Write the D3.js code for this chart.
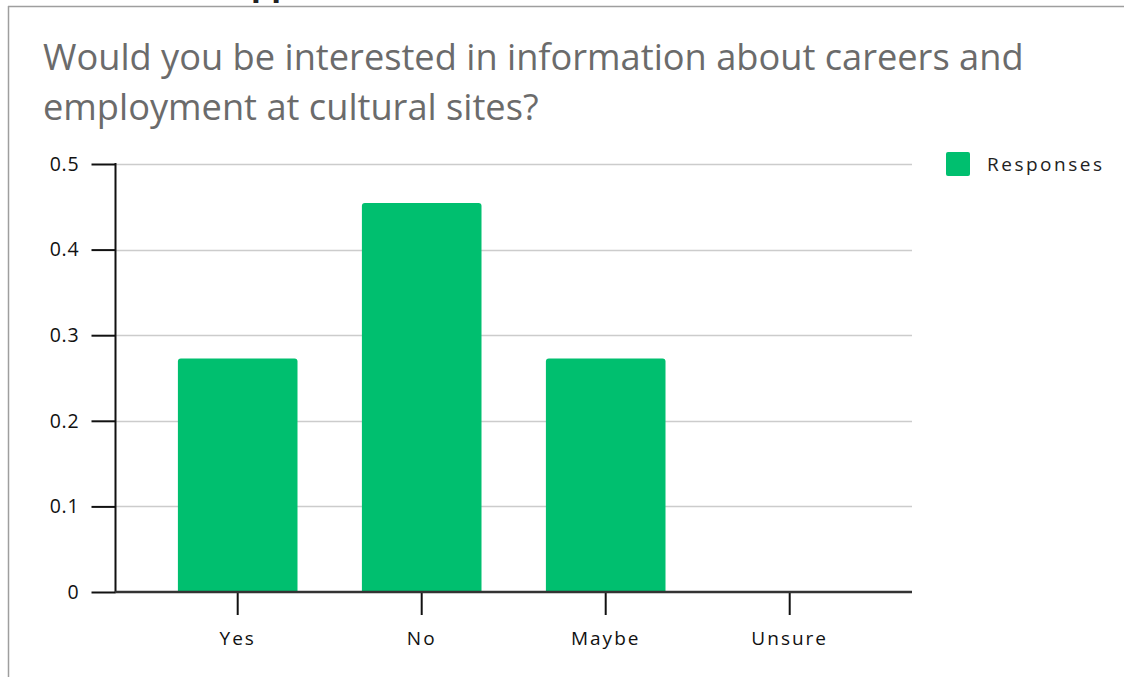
<!DOCTYPE html>
<html>
<head>
<meta charset="utf-8">
<script src="https://cdn.jsdelivr.net/npm/d3@7"></script>
<style>
  html, body { margin: 0; padding: 0; background: #fff; }
  svg { display: block; }
</style>
</head>
<body>
<svg id="chart" width="1125" height="678"></svg>
<script>
// Survey question and answer shares
const titleLines = [
  "Would you be interested in information about careers and",
  "employment at cultural sites?"
];
const categories = ["Yes", "No", "Maybe", "Unsure"];
const responses = [0.2727, 0.4545, 0.2727, 0];
const yTicks = [0, 0.1, 0.2, 0.3, 0.4, 0.5];
const yTickLabels = ["0", "0.1", "0.2", "0.3", "0.4", "0.5"];
const seriesName = "Responses";

const W = 1125, H = 678;
const svg = d3.select("#chart");
const green = "#00bf6f";
const labelFont = "'Open Sans', 'Noto Sans', sans-serif";

// page frame and the heading above it (heading sits mostly above the page top)
svg.append("text")
  .attr("x", 229).attr("y", -4.7)
  .attr("font-family", labelFont).attr("font-weight", 700)
  .attr("font-size", 32).attr("fill", "#222")
  .text("Appendix");
svg.append("line").attr("x1", 8).attr("x2", 1124).attr("y1", 6.5).attr("y2", 6.5)
  .attr("stroke", "#9e9e9e").attr("stroke-width", 1.5);
svg.append("line").attr("x1", 8.5).attr("x2", 8.5).attr("y1", 6).attr("y2", 677)
  .attr("stroke", "#9e9e9e").attr("stroke-width", 1.5);

// title
const title = svg.append("g");
titleLines.forEach((t, i) => {
  title.append("text")
    .attr("x", 43).attr("y", 70 + i * 50)
    .attr("font-family", labelFont).attr("font-size", 36)
    .attr("fill", "#6b6b6b")
    .text(t);
});
// fit first line to its set width
{
  const first = title.select("text").node();
  const len = first.getComputedTextLength();
  const fs = 36 * 981 / len;
  title.selectAll("text").attr("font-size", fs);
}

// scales
const plotLeft = 116, plotRight = 912;
const y = d3.scaleLinear().domain([0, 0.5]).range([592, 164]);
const x = d3.scaleBand().domain(categories)
  .range([145.7, 881.7]).paddingInner(0.35).paddingOuter(0.175);

// grid
svg.append("g").selectAll("line")
  .data(yTicks.filter(d => d > 0))
  .join("line")
  .attr("x1", plotLeft).attr("x2", plotRight)
  .attr("y1", d => Math.round(y(d)) + 0.5).attr("y2", d => Math.round(y(d)) + 0.5)
  .attr("stroke", "#cccccc").attr("stroke-width", 1.5);

// bars with slightly rounded tops
const r = 3;
svg.append("g").selectAll("path")
  .data(categories.map((c, i) => ({ c, v: responses[i] })).filter(d => d.v > 0))
  .join("path")
  .attr("fill", green)
  .attr("d", d => {
    const x0 = x(d.c), x1 = x0 + x.bandwidth(), y0 = y(0), y1 = y(d.v);
    return `M${x0},${y0}V${y1 + r}Q${x0},${y1} ${x0 + r},${y1}H${x1 - r}Q${x1},${y1} ${x1},${y1 + r}V${y0}Z`;
  });

// y axis
const yAxis = d3.axisLeft(y).tickValues(yTicks)
  .tickFormat((d, i) => yTickLabels[i]).tickSize(24).tickPadding(12);
const gy = svg.append("g").attr("transform", `translate(${plotLeft - 0.5},0)`).call(yAxis);
gy.select(".domain").remove();
gy.append("line").attr("x1", 0).attr("x2", 0).attr("y1", y(0.5) - 1).attr("y2", y(0))
  .attr("stroke", "#111").attr("stroke-width", 2);
gy.selectAll(".tick line").attr("stroke", "#111").attr("stroke-width", 2);
gy.selectAll(".tick text")
  .attr("font-family", labelFont).attr("font-size", 19.5).attr("fill", "#111")
  .attr("letter-spacing", 0.8);

// x axis
const xAxis = d3.axisBottom(x).tickSize(23).tickPadding(17);
const gx = svg.append("g").attr("transform", `translate(0,${y(0)})`).call(xAxis);
gx.select(".domain").remove();
gx.append("line").attr("x1", plotLeft - 1).attr("x2", plotRight).attr("y1", 0).attr("y2", 0)
  .attr("stroke", "#333").attr("stroke-width", 2.5);
gx.selectAll(".tick line").attr("stroke", "#111").attr("stroke-width", 2);
gx.selectAll(".tick text")
  .attr("font-family", labelFont).attr("font-size", 19).attr("fill", "#111")
  .attr("letter-spacing", 2);

// legend
const lg = svg.append("g").attr("transform", "translate(946,152)");
lg.append("rect").attr("width", 24).attr("height", 24).attr("rx", 2).attr("fill", green);
lg.append("text").attr("x", 41).attr("y", 18.5)
  .attr("font-family", labelFont).attr("font-size", 19).attr("fill", "#222")
  .attr("letter-spacing", 2.5)
  .text(seriesName);
</script>
</body>
</html>
